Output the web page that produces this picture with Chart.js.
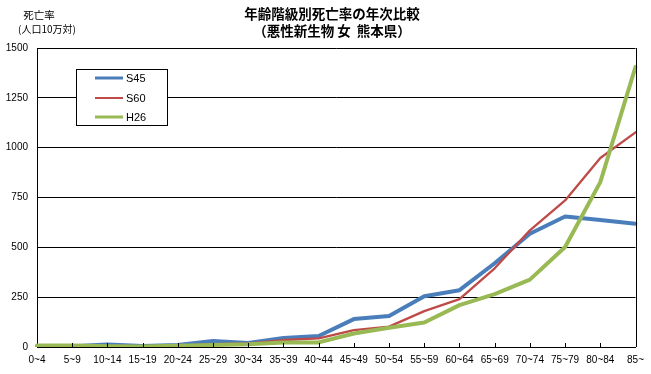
<!DOCTYPE html>
<html>
<head>
<meta charset="utf-8">
<script src="https://cdn.jsdelivr.net/npm/chart.js@4/dist/chart.umd.min.js"></script>
<style>
html,body{margin:0;padding:0;background:#fff;}
#wrap{width:651px;height:374px;}
</style>
</head>
<body>
<div id="wrap"><canvas id="c" width="651" height="374"></canvas></div>
<script>
const categories = ['0~4','5~9','10~14','15~19','20~24','25~29','30~34','35~39','40~44','45~49','50~54','55~59','60~64','65~69','70~74','75~79','80~84','85~'];
const s45 = [3, 4, 12, 5, 10, 30, 20, 45, 55, 140, 155, 255, 285, 420, 568, 655, 637, 618];
const s60 = [3, 3, 5, 4, 7, 14, 18, 35, 43, 85, 102, 180, 240, 395, 585, 735, 948, 1077];
const h26 = [8, 7, 4, 3, 6, 10, 14, 22, 23, 68, 97, 123, 210, 265, 338, 502, 827, 1405];
const seriesNames = ['S45', 'S60', 'H26'];
const titleLines = ['年齢階級別死亡率の年次比較', '（悪性新生物 女  熊本県）'];
const yLabelLines = ['死亡率', '(人口10万対)'];
const yTicks = [0, 250, 500, 750, 1000, 1250, 1500];

const colors = ['#4A7EBB', '#BE4B48', '#98B954'];
const widths = [4, 2.3, 4];
const legendWidths = [3, 2, 3];

const extras = {
  id: 'extras',
  afterDraw(chart) {
    const ctx = chart.ctx;
    const a = chart.chartArea;
    ctx.save();
    ctx.strokeStyle = '#000';
    ctx.lineWidth = 1;
    ctx.beginPath();
    ctx.moveTo(Math.round(a.right) + 0.5, a.top);
    ctx.lineTo(Math.round(a.right) + 0.5, a.bottom);
    ctx.stroke();
    const xs = chart.scales.x;
    ctx.beginPath();
    for (let i = 1; i < categories.length; i++) {
      const x = Math.round(xs.getPixelForValue(i)) + 0.5;
      ctx.moveTo(x, a.bottom);
      ctx.lineTo(x, a.bottom - 4);
    }
    ctx.stroke();
    ctx.fillStyle = '#000';
    ctx.textAlign = 'center';
    ctx.textBaseline = 'middle';
    ctx.font = 'bold 13.5px "Noto Sans CJK JP"';
    ctx.fillText(titleLines[0], 332, 14);
    ctx.fillText(titleLines[1], 332, 31);
    ctx.font = '10.5px "Noto Sans CJK JP"';
    ctx.fillText(yLabelLines[0], 39, 15);
    ctx.font = '10px "Noto Sans CJK JP"';
    ctx.fillText(yLabelLines[1], 47, 29);
    const lx = 76.5, ly = 69.5, lw = 91, lh = 56;
    ctx.fillStyle = '#fff';
    ctx.fillRect(lx, ly, lw, lh);
    ctx.strokeStyle = '#000';
    ctx.lineWidth = 1;
    ctx.strokeRect(lx, ly, lw, lh);
    const rows = [78, 98, 117];
    ctx.textAlign = 'left';
    ctx.font = '11px "Liberation Sans"';
    chart.data.datasets.forEach((ds, i) => {
      ctx.strokeStyle = ds.borderColor;
      ctx.lineWidth = legendWidths[i];
      ctx.beginPath();
      ctx.moveTo(95, rows[i]);
      ctx.lineTo(123, rows[i]);
      ctx.stroke();
      ctx.fillStyle = '#000';
      ctx.fillText(ds.label, 126, rows[i] + 1);
    });
    ctx.restore();
  }
};

new Chart(document.getElementById('c'), {
  type: 'line',
  data: {
    labels: categories,
    datasets: [
      {label: seriesNames[0], data: s45, borderColor: colors[0], borderWidth: widths[0], order: 3},
      {label: seriesNames[1], data: s60, borderColor: colors[1], borderWidth: widths[1], order: 2},
      {label: seriesNames[2], data: h26, borderColor: colors[2], borderWidth: widths[2], order: 1}
    ]
  },
  options: {
    responsive: false,
    animation: false,
    events: [],
    layout: {padding: {top: 48, right: 13, bottom: 0, left: 0}},
    elements: {
      point: {radius: 0},
      line: {tension: 0, fill: false, borderCapStyle: 'round', borderJoinStyle: 'round'}
    },
    plugins: {legend: {display: false}, title: {display: false}, tooltip: {enabled: false}},
    scales: {
      x: {
        offset: false,
        grid: {display: true, drawOnChartArea: false, drawTicks: false},
        border: {display: true, color: '#000', width: 1},
        ticks: {
          color: '#000',
          font: {family: '"Liberation Sans"', size: 10},
          padding: 7,
          maxRotation: 0,
          autoSkip: false
        },
        afterFit(s) { s.height = 27; }
      },
      y: {
        min: 0, max: 1500,
        afterBuildTicks(s) { s.ticks = yTicks.map(v => ({value: v})); },
        grid: {color: '#000', lineWidth: 1, drawTicks: false},
        border: {display: true, color: '#000', width: 1},
        ticks: {
          color: '#000',
          font: {family: '"Liberation Sans"', size: 10},
          padding: 9,
          callback: (v) => String(v)
        },
        afterFit(s) { s.width = 37; }
      }
    }
  },
  plugins: [extras]
});
</script>
</body>
</html>
